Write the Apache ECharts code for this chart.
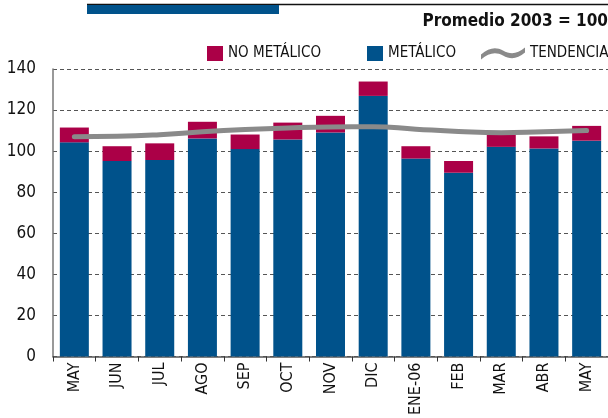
<!DOCTYPE html>
<html>
<head>
<meta charset="utf-8">
<title>Metálico / No metálico</title>
<script src="https://cdn.jsdelivr.net/npm/echarts@6/dist/echarts.min.js"></script>
<style>
  html, body { margin: 0; padding: 0; background: #fff; }
  #chart { width: 608px; height: 418px; }
</style>
</head>
<body>
<div id="chart"></div>
<script>
// datos
var meses = ['MAY', 'JUN', 'JUL', 'AGO', 'SEP', 'OCT', 'NOV', 'DIC', 'ENE-06', 'FEB', 'MAR', 'ABR', 'MAY'];
var metalico = [104.3, 95.2, 95.7, 106.2, 101.0, 105.7, 109.1, 126.9, 96.4, 89.5, 102.1, 101.3, 105.1];
var noMetalico = [7.2, 7.2, 8.1, 8.1, 7.1, 8.2, 8.1, 7.0, 6.0, 5.7, 5.9, 5.9, 7.2];
var tendencia = [107.0, 107.2, 108.0, 109.4, 110.5, 111.3, 111.8, 111.9, 110.7, 109.6, 109.0, 109.5, 110.0];
var yTicks = [0, 20, 40, 60, 80, 100, 120, 140];

var fuente = '"DejaVu Sans Condensed", "Liberation Sans", Arial, sans-serif';
var azul = '#00528b';
var rojo = '#ab0047';
var gris = '#8a8a8a';

var myChart = echarts.init(document.getElementById('chart'));

var leyendaTexto = { fontFamily: fuente, fontSize: 15, color: '#111', padding: [4, 0, 0, 0] };

var option = {
    animation: false,
    textStyle: { fontFamily: fuente },
    title: {
        text: 'Promedio 2003 = 100',
        right: 0,
        top: 13,
        padding: 0,
        textStyle: { fontFamily: fuente, fontSize: 17, fontWeight: 'bold', color: '#111' }
    },
    graphic: [
        { type: 'line', shape: { x1: 87, y1: 4.5, x2: 608, y2: 4.5 }, style: { stroke: '#111', lineWidth: 1.5 } },
        { type: 'rect', shape: { x: 87, y: 5, width: 192, height: 9 }, style: { fill: azul } }
    ],
    legend: [
        {
            left: 207, top: 46, padding: 0, itemGap: 0,
            itemWidth: 16, itemHeight: 15, icon: 'rect',
            textStyle: leyendaTexto,
            data: ['NO METÁLICO']
        },
        {
            left: 367, top: 46, padding: 0, itemGap: 0,
            itemWidth: 16, itemHeight: 15, icon: 'rect',
            textStyle: leyendaTexto,
            data: ['METÁLICO']
        },
        {
            left: 481, top: 46, padding: 0, itemGap: 0,
            itemWidth: 44, itemHeight: 14,
            icon: 'path://M0,9 C8,2 15,1 22,5 C29,9 36,9 44,2 L44,7 C36,14 29,14 22,10 C15,6 8,7 0,14 Z',
            textStyle: leyendaTexto,
            data: ['TENDENCIA']
        }
    ],
    grid: { left: 53, right: 0, top: 69, bottom: 57 },
    xAxis: {
        type: 'category',
        data: meses,
        axisLine: { lineStyle: { color: '#555', width: 1.5 } },
        axisTick: { show: true, length: 5, lineStyle: { color: '#333' } },
        axisLabel: {
            interval: 0,
            rotate: 90,
            margin: 6,
            fontFamily: fuente,
            fontSize: 16,
            color: '#111'
        }
    },
    yAxis: {
        type: 'value',
        min: yTicks[0],
        max: yTicks[yTicks.length - 1],
        interval: 20,
        axisLine: { show: true, lineStyle: { color: '#777', width: 1.5 } },
        axisTick: { show: false },
        axisLabel: { margin: 17, fontFamily: fuente, fontSize: 17, color: '#111' },
        splitLine: { lineStyle: { color: '#555', type: [4, 3], width: 1 } }
    },
    series: [
        {
            name: 'METÁLICO',
            type: 'bar',
            stack: 'total',
            barWidth: 29,
            itemStyle: { color: azul },
            data: metalico
        },
        {
            name: 'NO METÁLICO',
            type: 'bar',
            stack: 'total',
            barWidth: 29,
            itemStyle: { color: rojo },
            data: noMetalico
        },
        {
            name: 'TENDENCIA',
            type: 'line',
            smooth: true,
            showSymbol: false,
            symbol: 'none',
            itemStyle: { color: gris },
            lineStyle: { color: gris, width: 5, cap: 'round' },
            z: 5,
            data: tendencia
        }
    ]
};

myChart.setOption(option);
</script>
</body>
</html>
